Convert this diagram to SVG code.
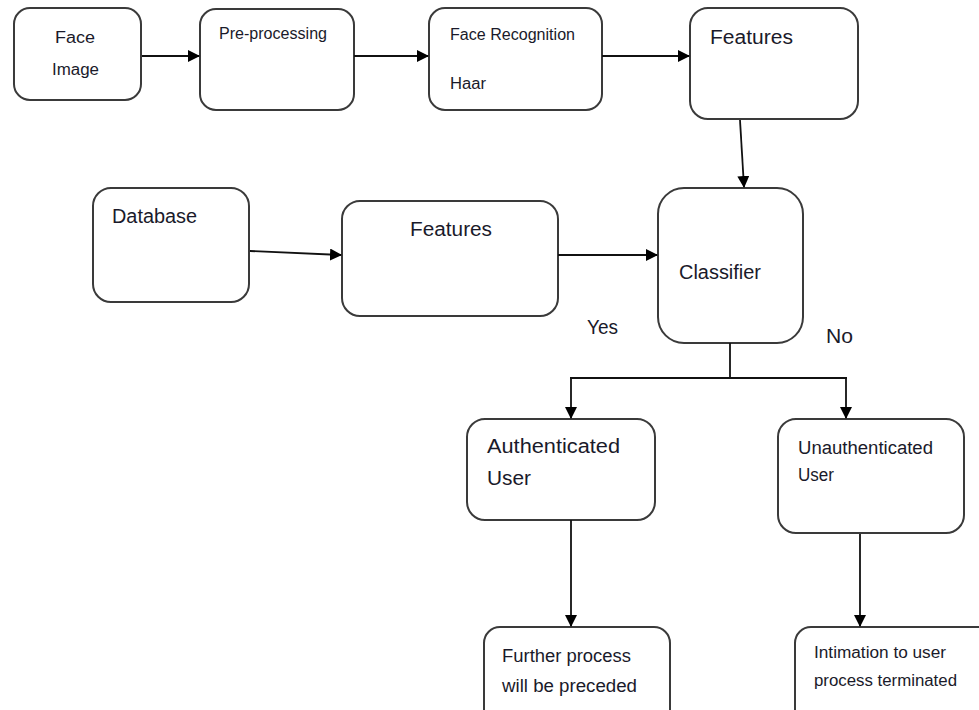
<svg xmlns="http://www.w3.org/2000/svg" width="979" height="710" viewBox="0 0 979 710">
<defs>
<marker id="ah" markerWidth="12" markerHeight="12" refX="11" refY="6" orient="auto" markerUnits="userSpaceOnUse">
<path d="M0,0 L12,6 L0,12 Z" fill="#000"/>
</marker>
<style>
.box{fill:#fff;stroke:#3a3a3a;stroke-width:2}
.ln{fill:none;stroke:#111;stroke-width:1.8}
.arr{fill:none;stroke:#111;stroke-width:1.8;marker-end:url(#ah)}
text{font-family:"Liberation Sans","Open Sans",sans-serif;fill:#1a1a2a}
.s{font-size:16px}
.m{font-size:18px}
.l{font-size:20px}
</style>
</defs>
<rect width="979" height="710" fill="#fff"/>
<g id="face-image"><rect class="box" x="14" y="8" width="127" height="92" rx="16"/>
<text class="s" x="55" y="43" textLength="40" lengthAdjust="spacingAndGlyphs">Face</text>
<text class="s" x="52" y="75" textLength="47" lengthAdjust="spacingAndGlyphs">Image</text></g>
<g id="pre-processing"><rect class="box" x="200" y="9" width="154" height="101" rx="16"/>
<text class="s" x="219" y="39" textLength="108" lengthAdjust="spacingAndGlyphs">Pre-processing</text></g>
<g id="face-recognition"><rect class="box" x="429" y="8" width="173" height="102" rx="16"/>
<text class="s" x="450" y="40" textLength="125" lengthAdjust="spacingAndGlyphs">Face Recognition</text>
<text class="s" x="450" y="89" textLength="36" lengthAdjust="spacingAndGlyphs">Haar</text></g>
<g id="features-top"><rect class="box" x="690" y="8" width="168" height="111" rx="18"/>
<text class="l" x="710" y="44" textLength="83" lengthAdjust="spacingAndGlyphs">Features</text></g>
<g id="database"><rect class="box" x="93" y="188" width="156" height="114" rx="18"/>
<text class="l" x="112" y="223" textLength="85" lengthAdjust="spacingAndGlyphs">Database</text></g>
<g id="features-db"><rect class="box" x="342" y="201" width="216" height="115" rx="18"/>
<text class="l" x="410" y="236" textLength="82" lengthAdjust="spacingAndGlyphs">Features</text></g>
<g id="classifier"><rect class="box" x="658" y="188" width="145" height="155" rx="26"/>
<text class="l" x="679" y="279" textLength="82" lengthAdjust="spacingAndGlyphs">Classifier</text></g>
<g id="authenticated"><rect class="box" x="467" y="419" width="188" height="101" rx="18"/>
<text class="l" x="487" y="453" textLength="133" lengthAdjust="spacingAndGlyphs">Authenticated</text>
<text class="l" x="487" y="485" textLength="44" lengthAdjust="spacingAndGlyphs">User</text></g>
<g id="unauthenticated"><rect class="box" x="778" y="419" width="186" height="114" rx="18"/>
<text class="m" x="798" y="454" textLength="135" lengthAdjust="spacingAndGlyphs">Unauthenticated</text>
<text class="m" x="798" y="481" textLength="36" lengthAdjust="spacingAndGlyphs">User</text></g>
<g id="further"><rect class="box" x="484" y="627" width="186" height="100" rx="16"/>
<text class="m" x="502" y="662" textLength="129" lengthAdjust="spacingAndGlyphs">Further process</text>
<text class="m" x="502" y="692" textLength="135" lengthAdjust="spacingAndGlyphs">will be preceded</text></g>
<g id="intimation"><rect class="box" x="795" y="627" width="200" height="100" rx="16"/>
<text class="s" x="814" y="658" textLength="132" lengthAdjust="spacingAndGlyphs">Intimation to user</text>
<text class="s" x="814" y="686" textLength="143" lengthAdjust="spacingAndGlyphs">process terminated</text></g>
<g id="labels">
<text class="l" x="587" y="334" textLength="31" lengthAdjust="spacingAndGlyphs">Yes</text>
<text class="l" x="826" y="343" textLength="27" lengthAdjust="spacingAndGlyphs">No</text>
</g>
<g id="connectors">
<line class="arr" x1="142" y1="56" x2="199" y2="56"/>
<line class="arr" x1="354" y1="56" x2="428" y2="56"/>
<line class="arr" x1="602" y1="56" x2="689" y2="56"/>
<line class="arr" x1="740" y1="120" x2="744" y2="187"/>
<line class="arr" x1="250" y1="251" x2="341" y2="255"/>
<line class="arr" x1="558" y1="255" x2="657" y2="255"/>
<polyline class="ln" points="730,343 730,378"/>
<polyline class="arr" points="571,378 571,418"/>
<polyline class="arr" points="846,378 846,418"/>
<line class="ln" x1="570" y1="378" x2="847" y2="378"/>
<line class="arr" x1="571" y1="520" x2="571" y2="626"/>
<line class="arr" x1="860" y1="534" x2="860" y2="626"/>
</g>
</svg>
